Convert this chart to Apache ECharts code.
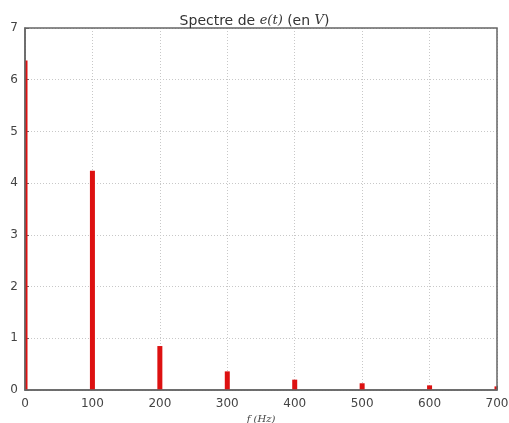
<!DOCTYPE html>
<html>
<head>
<meta charset="utf-8">
<script src="https://cdn.jsdelivr.net/npm/echarts@6/dist/echarts.min.js"></script>
<style>html,body{margin:0;padding:0;background:#fff}#c{width:509px;height:423px}</style>
</head>
<body>
<div id="c"></div>
<script>
const frequencies = [0, 100, 200, 300, 400, 500, 600, 700];
const amplitudes = [6.37, 4.24, 0.85, 0.36, 0.20, 0.13, 0.09, 0.07];
const xTicks = [0, 100, 200, 300, 400, 500, 600, 700];
const yTicks = [0, 1, 2, 3, 4, 5, 6, 7];

const chart = echarts.init(document.getElementById('c'), null, {renderer: 'canvas'});
chart.setOption({
  animation: false,
  backgroundColor: '#fff',
  title: {
    text: '{n|Spectre de }{m|e(t)}{n| (en }{m|V}{n|)}',
    left: 'center',
    top: 9,
    textStyle: {
      fontWeight: 'normal',
      rich: {
        n: {fontFamily: 'DejaVu Sans', fontSize: 14, fontWeight: 'normal', color: '#333'},
        m: {fontFamily: 'DejaVu Serif', fontStyle: 'italic', fontSize: 13, fontWeight: 'normal', color: '#333'}
      }
    }
  },
  grid: {left: 25, right: 12, top: 28, bottom: 33, show: true, borderColor: '#666', borderWidth: 1.5,
    outerBoundsMode: 'none', containLabel: false, z: 5},
  xAxis: {
    type: 'value', min: 0, max: 700, interval: 100,
    name: 'f (Hz)', nameLocation: 'middle', nameGap: 24,
    nameTextStyle: {fontFamily: 'DejaVu Serif', fontStyle: 'italic', fontSize: 10, color: '#444'},
    axisLine: {show: true, lineStyle: {color: '#666', width: 1.5}},
    axisTick: {show: true, inside: true, length: 4, lineStyle: {color: '#666'}},
    axisLabel: {fontFamily: 'DejaVu Sans', fontSize: 12, color: '#444', margin: 8,
      formatter: v => xTicks.includes(v) ? String(v) : ''},
    splitLine: {show: true, lineStyle: {color: '#c8c8c8', type: [1, 2], width: 1}}
  },
  yAxis: {
    type: 'value', min: 0, max: 7, interval: 1,
    axisLine: {show: true, lineStyle: {color: '#666', width: 1.5}},
    axisTick: {show: true, inside: true, length: 4, lineStyle: {color: '#666'}},
    axisLabel: {fontFamily: 'DejaVu Sans', fontSize: 12, color: '#444', margin: 7,
      formatter: v => yTicks.includes(v) ? String(v) : ''},
    splitLine: {show: true, lineStyle: {color: '#c8c8c8', type: [1, 2], width: 1}}
  },
  series: [{
    type: 'custom',
    data: frequencies.map((f, i) => [f, amplitudes[i]]),
    renderItem: function (params, api) {
      const top = api.coord([api.value(0), api.value(1)]);
      const base = api.coord([api.value(0), 0]);
      const w = 5;
      const rect = echarts.graphic.clipRectByRect(
        {x: top[0] - w / 2, y: top[1], width: w, height: base[1] - top[1]},
        {x: params.coordSys.x, y: params.coordSys.y, width: params.coordSys.width, height: params.coordSys.height}
      );
      return rect && {type: 'rect', shape: rect, style: {fill: '#dd1111'}};
    },
    z: 1
  }]
});
</script>
</body>
</html>
